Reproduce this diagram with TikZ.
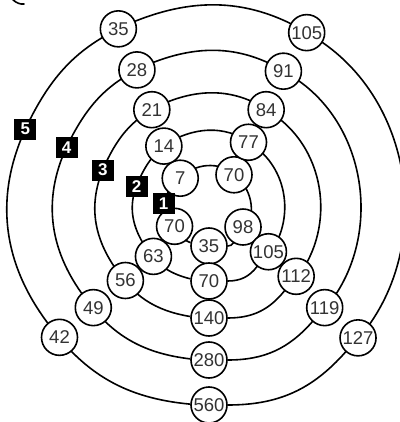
\documentclass[tikz,border=0pt]{standalone}
\usepackage{fontspec}
\setmainfont{Liberation Sans}
\usetikzlibrary{backgrounds}
\begin{document}
\begin{tikzpicture}[x=1pt,y=1pt,
  num/.style={circle,draw=black,line width=1.6pt,fill=white,minimum size=36pt,inner sep=0pt,text=black!80,font=\fontsize{18.5}{20}\selectfont},
  tag/.style={rectangle,fill=black,minimum width=22pt,minimum height=21pt,inner sep=0pt,text=white,font=\bfseries\fontsize{17}{19}\selectfont},
  ring/.style={line width=1.6pt,draw=black}]
\useasboundingbox (-209,-216) rectangle (190,206);
\coordinate (c) at (0,0);
% ring 1
\node[num] (a1) at (-90:40pt) {35};
\node[num] (a2) at (-31.7:40pt) {98};
\node[num] (a3) at (51.3:40pt) {70};
\node[num] (a4) at (136:40pt) {7};
\node[num] (a6) at (210.5:40pt) {70};
\node[tag] (a5) at (-45.5,2.5) {1};
% ring 2
\node[num] (b1) at (-90:75pt) {70};
\node[num] (b2) at (-37.6:75pt) {105};
\node[num] (b3) at (58.2:75pt) {77};
\node[num] (b4) at (127:75pt) {14};
\node[tag] (b5) at (164.6:75pt) {2};
\node[num] (b6) at (222.2:75pt) {63};
% ring 3
\node[num] (c1) at (-90:112pt) {140};
\node[num] (c2) at (-38.9:112pt) {112};
\node[num] (c3) at (59.3:112pt) {84};
\node[num] (c4) at (120.7:112pt) {21};
\node[tag] (c5) at (161.3:112pt) {3};
\node[num] (c6) at (221.7:112pt) {56};
% ring 4
\node[num] (d1) at (-90:154pt) {280};
\node[num] (d2) at (-41.3:154pt) {119};
\node[num] (d3) at (61.1:154pt) {91};
\node[num] (d4) at (117.9:154pt) {28};
\node[tag] (d5) at (157.7:154pt) {4};
\node[num] (d6) at (221.3:154pt) {49};
% ring 5
\node[num] (e1) at (-90:199pt) {560};
\node[num] (e2) at (-41.5:199pt) {127};
\node[num] (e3) at (60.6:199pt) {105};
\node[num] (e4) at (117.1:199pt) {35};
\node[tag] (e5) at (157.3:199pt) {5};
\node[num] (e6) at (221.3:199pt) {42};
\begin{pgfonlayer}{background}
\draw[ring] (a1) to[bend right=29.15] (a2) to[bend right=41.5] (a3) to[bend right=42.35] (a4)
  to[bend right=20.45] (a5) to[bend right=16.8] (a6) to[bend right=29.75] (a1);
\draw[ring] (b1) to[bend right=26.2] (b2) to[bend right=47.9] (b3) to[bend right=34.4] (b4)
  to[bend right=18.8] (b5) to[bend right=28.8] (b6) to[bend right=23.9] (b1);
\draw[ring] (c1) to[bend right=25.55] (c2) to[bend right=49.1] (c3) to[bend right=30.7] (c4)
  to[bend right=20.3] (c5) to[bend right=30.2] (c6) to[bend right=24.15] (c1);
\draw[ring] (d1) to[bend right=24.35] (d2) to[bend right=51.2] (d3) to[bend right=28.4] (d4)
  to[bend right=19.9] (d5) to[bend right=31.8] (d6) to[bend right=24.35] (d1);
\draw[ring] (e1) to[bend right=24.25] (e2) to[bend right=51.05] (e3) to[bend right=28.25] (e4)
  to[bend right=20.1] (e5) to[bend right=32] (e6) to[bend right=24.35] (e1);
\end{pgfonlayer}
% cut-off stroke at top left
\draw[line width=1.6pt,line cap=round] (-196,206) .. controls (-192,203) and (-189,201.5) .. (-185,202);
\end{tikzpicture}
\end{document}
